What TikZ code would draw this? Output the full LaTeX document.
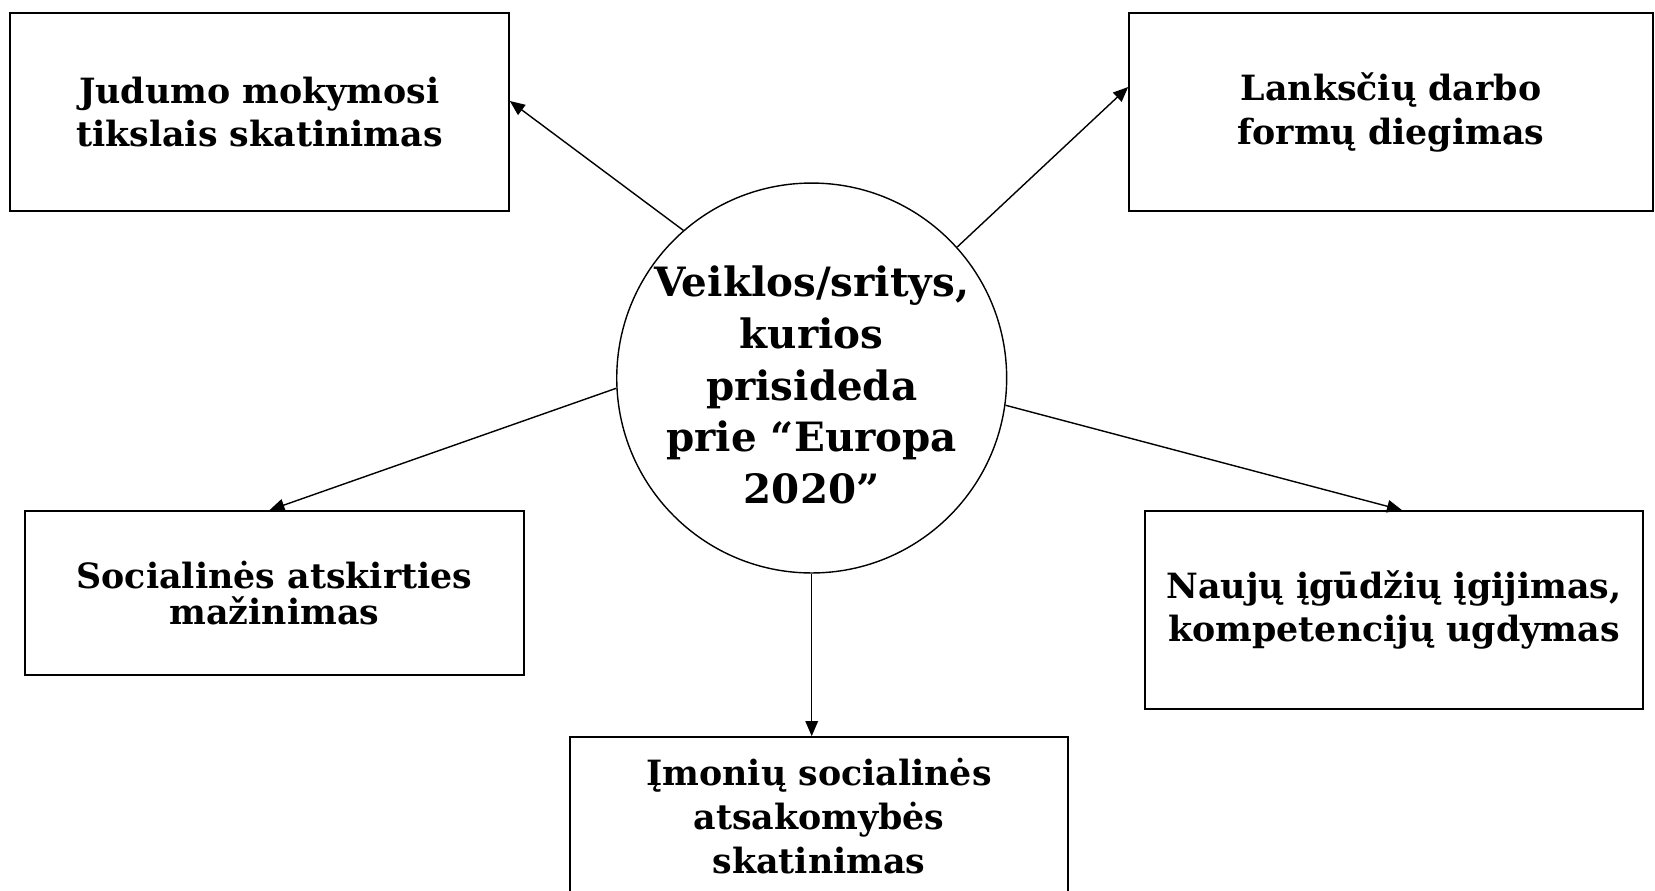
\documentclass[tikz,border=0pt]{standalone}
\usepackage{fontspec}
\setmainfont{DejaVu Serif}
\usepackage{tikz}
\usetikzlibrary{arrows.meta,positioning,calc}

\begin{document}
\begin{tikzpicture}[
    x=0.02cm, y=-0.02cm,
    area/.style={rectangle, draw=black, line width=1pt, align=center,
                 inner sep=0pt, font=\fontsize{19.8}{25}\selectfont\bfseries},
    hub/.style={circle, draw=black, line width=0.8pt, inner sep=0pt,
                minimum size=7.8cm},
    link/.style={-{Triangle[length=0.3cm, width=0.25cm]}, line width=0.8pt}
]
\useasboundingbox (0,0) rectangle (1655,890);

% Centre circle
\node[hub] (c) at (811.7,378) {};
\node[align=center, inner sep=0pt, font=\fontsize{23}{29.5}\selectfont\bfseries]
    (ctext) at (811.7,385) {Veiklos/sritys,\\kurios\\prisideda\\prie “Europa\\2020”};

% Areas round it
\node[area, minimum width=9.98cm, minimum height=3.96cm] (b1) at (259.5,112)
    {Judumo mokymosi\\tikslais skatinimas};
\node[area, minimum width=10.48cm, minimum height=3.96cm] (b2) at (1391,112)
    {Lanksčių darbo\\formų diegimas};
\node[area, minimum width=9.98cm, minimum height=3.28cm, font=\fontsize{19.8}{21}\selectfont\bfseries] (b3) at (274.5,593)
    {Socialinės atskirties\\mažinimas};
\node[area, minimum width=9.96cm, minimum height=3.96cm, font=\fontsize{19.8}{24}\selectfont\bfseries] (b4) at (1394,610)
    {Naujų įgūdžių įgijimas,\\kompetencijų ugdymas};
\node[area, minimum width=9.96cm, minimum height=3.16cm] (b5) at (819,816)
    {Įmonių socialinės\\atsakomybės\\skatinimas};

% Arrows
\draw[link] (c.131.5) -- ($(b1.east)+(0,-11)$);
\draw[link] (c.42.4) -- ($(b2.west)+(0,-25)$);
\draw[link] (c.183) -- ($(b3.north)+(-5,0)$);
\draw[link] (c.352.4) -- ($(b4.north)+(8,0)$);
\draw[link] (c.south) -- (c.south |- b5.north);

\end{tikzpicture}
\end{document}
